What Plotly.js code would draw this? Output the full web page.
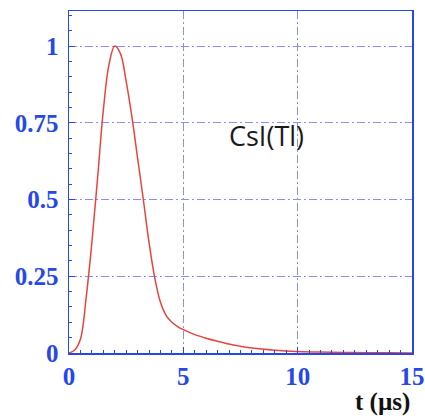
<!DOCTYPE html>
<html><head><meta charset="utf-8">
<script src="https://cdn.plot.ly/plotly-3.0.1.min.js"></script>
<style>html,body{margin:0;padding:0;background:#fff}#c{width:425px;height:416px}</style>
</head><body><div id="c"></div>
<script>
const tValues = [0,0.25,0.5,0.75,1.0,1.25,1.5,1.75,2.0,2.25,2.5,2.75,3.0,3.25,3.5,3.75,4.0,4.25,4.5,4.75,5.0,5.5,6,6.5,7,7.5,8,9,10,11,12,13,14,15];
const signal  = [0,0.01,0.045,0.18,0.36,0.57,0.79,0.94,1.0,0.975,0.885,0.77,0.635,0.5,0.36,0.245,0.165,0.122,0.1,0.086,0.076,0.06,0.048,0.038,0.029,0.022,0.016,0.009,0.005,0.003,0.002,0.001,0.0005,0];
const xTicks = [0,5,10,15];
const yTicks = [0,0.25,0.5,0.75,1];
const yTickLabels = ['0','0.25','0.5','0.75','1'];
const labelText = 'CsI(Tl)';
const axisTitle = 't (µs)';

const blue = '#2747e8';
const gridBlue = '#8a8ef0';
const tickFont = {family:'Liberation Serif, serif', size:25, color:blue, weight:'bold'};

const trace = {x:tValues, y:signal, type:'scatter', mode:'lines',
  line:{color:'#e8453a', width:1.5, shape:'spline', smoothing:1}, hoverinfo:'skip'};

const layout = {
  width:425, height:416,
  margin:{l:69, r:13, t:11, b:63},
  paper_bgcolor:'#fff', plot_bgcolor:'#fff',
  showlegend:false,
  xaxis:{range:[0,15], tickvals:xTicks, ticktext:xTicks.map(String),
    showgrid:true, gridcolor:gridBlue, griddash:'8px,3px,2px,3px', gridwidth:1,
    showline:true, linecolor:blue, linewidth:1.5, mirror:true,
    ticks:'inside', ticklen:6, tickcolor:blue, tickfont:tickFont, zeroline:false,
    minor:{dtick:0.5, tick0:0, ticks:'inside', ticklen:3, tickcolor:blue, showgrid:false}},
  yaxis:{range:[0,1.114], tickvals:yTicks, ticktext:yTickLabels,
    showgrid:true, gridcolor:gridBlue, griddash:'8px,3px,2px,3px', gridwidth:1,
    showline:true, linecolor:blue, linewidth:1.5, mirror:true,
    ticks:'inside', ticklen:6, tickcolor:blue, tickfont:tickFont, zeroline:false,
    ticklabelstandoff:4,
    minor:{dtick:0.05, tick0:0, ticks:'inside', ticklen:3, tickcolor:blue, showgrid:false}},
  annotations:[
    {x:8.65, y:0.71, xref:'x', yref:'y', text:labelText, showarrow:false,
     font:{family:'Open Sans, sans-serif', size:27, color:'#1a1a1a'}, xanchor:'center', yanchor:'middle'},
    {x:1, y:-0.143, xref:'paper', yref:'paper', text:axisTitle, showarrow:false,
     xanchor:'right', yanchor:'middle',
     font:{family:'Liberation Serif, serif', size:25, color:'#111', weight:'bold'}}
  ]
};
Plotly.newPlot('c',[trace],layout,{staticPlot:true, displayModeBar:false});
</script></body></html>
